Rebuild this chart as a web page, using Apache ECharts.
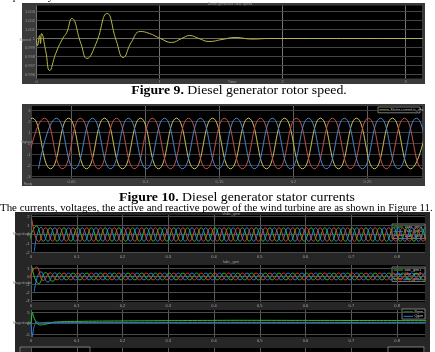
<!DOCTYPE html>
<html>
<head>
<meta charset="utf-8">
<script src="https://cdn.jsdelivr.net/npm/echarts@6/dist/echarts.min.js"></script>
<style>
  html, body { margin: 0; padding: 0; background: #fff; }
  #chart { width: 435px; height: 352px; }
</style>
</head>
<body>
<div id="chart"></div>
<script>
// Figure 9: diesel generator rotor speed (pu)
const speedTime = [0, 0.008, 0.025, 0.033, 0.041, 0.074, 0.107, 0.156, 0.213, 0.246, 0.287, 0.361, 0.41, 0.484, 0.574, 0.648, 0.705, 0.77, 0.844, 0.918, 1.008, 1.098, 1.18, 1.246, 1.32, 1.402, 1.508, 1.615, 1.754, 1.893, 2.2, 2.6, 3.0, 3.2];
const speedVal = [0.99989, 0.99922, 1.00033, 0.99944, 1.00056, 0.99867, 0.99644, 0.99833, 1.0, 1.00067, 1.00222, 0.99944, 0.99778, 0.99944, 1.00278, 0.99978, 0.99789, 0.99956, 1.00078, 1.00056, 1.0, 0.99956, 1.0, 1.00033, 1.0, 0.99967, 0.99989, 1.00011, 0.99994, 1.0, 1.0, 1.0, 1.0, 1.0];
const speedTicksX = [0, 1, 2, 3];
const speedTicksY = [1.003, 1.002, 1.001, 1.0, 0.999, 0.998, 0.997, 0.996];

// Figure 10: stator currents, peaks and troughs of each phase
const statorStart = 0.0115;          // first extremum (s)
const statorHalf = 0.01216;          // spacing between extrema (s)
const statorYellow = [-2.3, 2.3, -2.3, 2.3, -2.3, 2.3, -2.3, 2.3, -2.3, 2.3, -2.3, 2.3, -2.3, 2.3, -2.3, 2.3, -2.3, 2.3, -2.3, 2.3, -2.3, 2.3, -2.3, 2.3];
const statorRed = [-2.3, 2.3, -2.3, 2.3, -2.3, 2.3, -2.3, 2.3, -2.3, 2.3, -2.3, 2.3, -2.3, 2.3, -2.3, 2.3, -2.3, 2.3, -2.3, 2.3, -2.3, 2.3, -2.3, 2.3];
const statorBlue = [-2.3, 2.3, -2.3, 2.3, -2.3, 2.3, -2.3, 2.3, -2.3, 2.3, -2.3, 2.3, -2.3, 2.3, -2.3, 2.3, -2.3, 2.3, -2.3, 2.3, -2.3, 2.3, -2.3, 2.3];
const statorTicksX = [0.05, 0.1, 0.15, 0.2, 0.25];
const statorTicksY = [3, 2, 1, 0, -1, -2, -3];

// Figure 11 scope: shared time ticks
const scopeTicksX = [0, 0.1, 0.2, 0.3, 0.4, 0.5, 0.6, 0.7, 0.8];
const scopeHalf = 0.015;             // spacing between extrema (s)
const redStart = 0.002;
const blueStart = 0.007;
const greenStart = -0.003;

// Vabc_gen extrema (pu)
const vabcRed = [1.65, -0.8, 0.75, -0.75,
  0.75, -0.75, 0.75, -0.75, 0.75, -0.75, 0.75, -0.75, 0.75, -0.75, 0.75, -0.75, 0.75, -0.75,
  0.75, -0.75, 0.75, -0.75, 0.75, -0.75, 0.75, -0.75, 0.75, -0.75, 0.75, -0.75, 0.75, -0.75,
  0.75, -0.75, 0.75, -0.75, 0.75, -0.75, 0.75, -0.75, 0.75, -0.75, 0.75, -0.75, 0.75, -0.75,
  0.75, -0.75, 0.75, -0.75, 0.75, -0.75, 0.75, -0.75, 0.75, -0.75, 0.75, -0.75, 0.75, -0.75];
const vabcBlue = [-1.9, 0.8, -0.75, 0.75,
  -0.75, 0.75, -0.75, 0.75, -0.75, 0.75, -0.75, 0.75, -0.75, 0.75, -0.75, 0.75, -0.75, 0.75,
  -0.75, 0.75, -0.75, 0.75, -0.75, 0.75, -0.75, 0.75, -0.75, 0.75, -0.75, 0.75, -0.75, 0.75,
  -0.75, 0.75, -0.75, 0.75, -0.75, 0.75, -0.75, 0.75, -0.75, 0.75, -0.75, 0.75, -0.75, 0.75,
  -0.75, 0.75, -0.75, 0.75, -0.75, 0.75, -0.75, 0.75, -0.75, 0.75, -0.75, 0.75, -0.75, 0.75];
const vabcGreen = [-0.6, 0.95, -0.75, 0.75,
  -0.75, 0.75, -0.75, 0.75, -0.75, 0.75, -0.75, 0.75, -0.75, 0.75, -0.75, 0.75, -0.75, 0.75,
  -0.75, 0.75, -0.75, 0.75, -0.75, 0.75, -0.75, 0.75, -0.75, 0.75, -0.75, 0.75, -0.75, 0.75,
  -0.75, 0.75, -0.75, 0.75, -0.75, 0.75, -0.75, 0.75, -0.75, 0.75, -0.75, 0.75, -0.75, 0.75,
  -0.75, 0.75, -0.75, 0.75, -0.75, 0.75, -0.75, 0.75, -0.75, 0.75, -0.75, 0.75, -0.75, 0.75];
const vabcTicksY = [2, 1, 0, -1, -2];

// Iabc_gen extrema (pu)
const iabcRed = [1.25, -0.9, 0.5, -0.6,
  0.42, -0.42, 0.42, -0.42, 0.42, -0.42, 0.42, -0.42, 0.42, -0.42, 0.42, -0.42, 0.42, -0.42,
  0.42, -0.42, 0.42, -0.42, 0.42, -0.42, 0.42, -0.42, 0.42, -0.42, 0.42, -0.42, 0.42, -0.42,
  0.42, -0.42, 0.42, -0.42, 0.42, -0.42, 0.42, -0.42, 0.42, -0.42, 0.42, -0.42, 0.42, -0.42,
  0.42, -0.42, 0.42, -0.42, 0.42, -0.42, 0.42, -0.42, 0.42, -0.42, 0.42, -0.42, 0.42, -0.42];
const iabcBlue = [-1.9, 0.6, -0.7, 0.45,
  -0.42, 0.42, -0.42, 0.42, -0.42, 0.42, -0.42, 0.42, -0.42, 0.42, -0.42, 0.42, -0.42, 0.42,
  -0.42, 0.42, -0.42, 0.42, -0.42, 0.42, -0.42, 0.42, -0.42, 0.42, -0.42, 0.42, -0.42, 0.42,
  -0.42, 0.42, -0.42, 0.42, -0.42, 0.42, -0.42, 0.42, -0.42, 0.42, -0.42, 0.42, -0.42, 0.42,
  -0.42, 0.42, -0.42, 0.42, -0.42, 0.42, -0.42, 0.42, -0.42, 0.42, -0.42, 0.42, -0.42, 0.42];
const iabcGreen = [-0.3, 1.2, -0.5, 0.45,
  -0.42, 0.42, -0.42, 0.42, -0.42, 0.42, -0.42, 0.42, -0.42, 0.42, -0.42, 0.42, -0.42, 0.42,
  -0.42, 0.42, -0.42, 0.42, -0.42, 0.42, -0.42, 0.42, -0.42, 0.42, -0.42, 0.42, -0.42, 0.42,
  -0.42, 0.42, -0.42, 0.42, -0.42, 0.42, -0.42, 0.42, -0.42, 0.42, -0.42, 0.42, -0.42, 0.42,
  -0.42, 0.42, -0.42, 0.42, -0.42, 0.42, -0.42, 0.42, -0.42, 0.42, -0.42, 0.42, -0.42, 0.42];
const iabcTicksY = [1, 0, -1, -2, -3];

// Pgen / Qgen (pu)
const pqTime = [0, 0.003, 0.006, 0.012, 0.02, 0.03, 0.05, 0.08, 0.15, 0.3, 0.45, 0.6, 0.75, 0.87];
const pGen = [0, 5, 3, 0.2, -0.7, -0.4, 0.6, 0.9, 1.1, 1.3, 1.45, 1.4, 1.35, 1.3];
const qGen = [0, -6, -2, 0.8, 0.3, 0.5, 0.5, 0.5, 0.5, 0.5, 0.5, 0.5, 0.5, 0.5];
const pqTicksY = [5, 0, -5];

const SERIF = '"Liberation Serif", "DejaVu Serif", serif';
const SANS = '"Liberation Sans", "DejaVu Sans", sans-serif';

function wave(t0, step, vals) {
  return vals.map((v, i) => [t0 + i * step, v]);
}

// gridlines and their tick labels, as mark lines on the axes' own scales
function gridMarks(xs, ys, o) {
  const data = [];
  xs.forEach((v) => {
    data.push({
      xAxis: v,
      lineStyle: { color: o.vColor, width: 1, type: 'solid' },
      label: { show: o.xLabels !== false, position: 'start', distance: 1.5, formatter: String(v), color: o.text, fontSize: 4, fontFamily: SANS },
    });
  });
  ys.forEach((v) => {
    data.push({
      yAxis: v,
      lineStyle: { color: (o.mid !== undefined && v === o.mid) ? o.midColor : o.hColor, width: 1, type: 'solid' },
      label: { show: true, position: 'start', distance: 1.5, formatter: String(v), color: o.text, fontSize: 4, fontFamily: SANS },
    });
  });
  // precision: markLine rounds values to 2 decimals by default
  return { silent: true, symbol: 'none', precision: 6, z: 1, animation: false, data };
}

const chart = echarts.init(document.getElementById('chart'), null, { renderer: 'canvas' });

// plot areas of the scope windows (gridlines land on half pixels)
const grids = [
  { left: 36.5, top: 5.5, width: 385.5, height: 73 },
  { left: 32, top: 106, width: 390, height: 72 },
  { left: 31, top: 215, width: 394, height: 38 },
  { left: 31, top: 265, width: 394, height: 37 },
  { left: 31, top: 310, width: 394, height: 27 },
  { left: 31, top: 348, width: 394, height: 20 },
].map((g) => Object.assign({ show: true, backgroundColor: '#000', borderWidth: 0 }, g));

const xRanges = [[0, 3.134], [0.02331, 0.28682], [0, 0.861], [0, 0.861], [0, 0.861], [0, 0.861]];
const yRanges = [[0.995556, 1.003667], [-3.136, 3.409], [-2.0556, 2.1667], [-3.1875, 1.4375], [-6.136, 6.136], [-1, 1]];

const xAxis = xRanges.map((r, i) => ({ type: 'value', gridIndex: i, min: r[0], max: r[1], show: false }));
const yAxis = yRanges.map((r, i) => ({ type: 'value', gridIndex: i, min: r[0], max: r[1], show: false }));

const line = (i, name, data, color, extra) => Object.assign({
  name, type: 'line', xAxisIndex: i, yAxisIndex: i, data, showSymbol: false, symbol: 'none',
  smooth: 0.5, lineStyle: { color, width: 1 }, z: 3, animation: false,
}, extra || {});

const scopeGrid = { vColor: '#5a5a5a', hColor: '#4a4a4a', text: '#a8a8a8' };

const series = [
  line(0, 'Speed', speedTime.map((t, i) => [t, speedVal[i]]), '#b8b848', {
    markLine: gridMarks(speedTicksX, speedTicksY, { vColor: '#747474', hColor: '#444', mid: 1.0, midColor: '#6e6e64', text: '#999' }),
  }),
  line(1, 'is_a', wave(statorStart, statorHalf, statorYellow), '#c9c35e', {
    markLine: gridMarks(statorTicksX, statorTicksY, { vColor: '#606060', hColor: '#3c3c3c', text: '#999' }),
  }),
  line(1, 'is_b', wave(statorStart + statorHalf * 2 / 3, statorHalf, statorRed), '#c4524c'),
  line(1, 'is_c', wave(statorStart + statorHalf * 4 / 3, statorHalf, statorBlue), '#4f86c6'),

  line(2, 'Vabc_gen1', wave(greenStart, scopeHalf, vabcGreen), '#2fb82f', { markLine: gridMarks(scopeTicksX, vabcTicksY, scopeGrid) }),
  line(2, 'Vabc_gen2', wave(blueStart, scopeHalf, vabcBlue), '#2f7fd8'),
  line(2, 'Vabc_gen3', wave(redStart, scopeHalf, vabcRed), '#d8452f'),

  line(3, 'Iabc_gen1', wave(redStart, scopeHalf, iabcRed), '#2fb82f', { markLine: gridMarks(scopeTicksX, iabcTicksY, scopeGrid) }),
  line(3, 'Iabc_gen2', wave(blueStart, scopeHalf, iabcBlue), '#2f7fd8'),
  line(3, 'Iabc_gen3', wave(greenStart, scopeHalf, iabcGreen), '#d8452f'),

  line(4, 'Pgen', pqTime.map((t, i) => [t, pGen[i]]), '#2fc02f', { smooth: 0.2, markLine: gridMarks(scopeTicksX, pqTicksY, scopeGrid) }),
  line(4, 'Qgen', pqTime.map((t, i) => [t, qGen[i]]), '#2f7fd8', { smooth: 0.2 }),

  line(5, 'next', [], '#000', { markLine: gridMarks(scopeTicksX, [], Object.assign({ xLabels: false }, scopeGrid)) }),
];

const tiny = (text, x, y, extra) => ({
  type: 'text', x, y, z: 50, silent: true,
  style: Object.assign({ text, fill: '#9a9a9a', fontSize: 4, fontFamily: SANS, align: 'center', verticalAlign: 'middle' }, extra || {}),
});

function legendBox(x, y, w, names, colors) {
  const children = [{ type: 'rect', shape: { x: 0, y: 0, width: w, height: names.length * 4.3 + 1.5 }, style: { fill: '#000', stroke: '#9a9a9a', lineWidth: 0.8 } }];
  names.forEach((n, i) => {
    const cy = 3 + i * 4.3;
    children.push({ type: 'line', shape: { x1: 1.5, y1: cy, x2: 11, y2: cy }, style: { stroke: colors[i], lineWidth: 1 } });
    children.push({ type: 'text', x: 12.5, y: cy, style: { text: n, fill: '#cfcfcf', fontSize: 3.6, fontFamily: SANS, verticalAlign: 'middle' } });
  });
  return { type: 'group', x, y, z: 60, silent: true, children };
}

const caption = (bold, rest, x, y) => ({
  type: 'text', x, y, z: 50, scaleX: 1.15,
  style: { text: '{b|' + bold + '} ' + rest, fill: '#000', fontSize: 12, fontFamily: SERIF, align: 'center', verticalAlign: 'middle', rich: { b: { fontWeight: 'bold', fontSize: 12, fontFamily: SERIF } } },
});

const graphic = [
  // paper text
  { type: 'text', x: 0, y: -8, z: 50, style: { text: 'respectively.', fill: '#000', fontSize: 11, fontFamily: SERIF, verticalAlign: 'top' } },
  caption('Figure 9.', 'Diesel generator rotor speed.', 239, 91),
  caption('Figure 10.', 'Diesel generator stator currents', 237, 198),
  { type: 'text', x: 0, y: 208, z: 50, style: { text: 'The currents, voltages, the active and reactive power of the wind turbine are as shown in Figure 11.', fill: '#000', fontSize: 10.9, fontFamily: SERIF, verticalAlign: 'middle' } },
  // scope frames
  { type: 'rect', z: -10, shape: { x: 22, y: 3, width: 403, height: 81 }, style: { fill: '#3a3a3a' } },
  { type: 'rect', z: -10, shape: { x: 22, y: 104, width: 403, height: 82 }, style: { fill: '#3a3a3a' } },
  { type: 'rect', z: -10, shape: { x: 15, y: 212, width: 415, height: 140 }, style: { fill: '#262626' } },
  // fig 9 labels
  tiny('Diesel generator rotor speed', 230, 4, { fontSize: 3.5 }),
  tiny('Time', 232, 82),
  tiny('Speed', 25, 40, { rotation: Math.PI / 2 }),
  // fig 10 labels
  tiny('Signal', 26, 142, { rotation: Math.PI / 2 }),
  tiny('Ready', 28, 184, { fontSize: 3 }),
  legendBox(378, 107, 42, ['Stator current is_abc'], ['#c9c35e']),
  // fig 11 titles, axis names, legends
  tiny('Vabc_gen', 231, 213.5),
  tiny('Iabc_gen', 231, 262),
  tiny('Magnitude', 22, 234, { rotation: Math.PI / 2 }),
  tiny('Magnitude', 22, 283, { rotation: Math.PI / 2 }),
  tiny('Magnitude', 22, 323, { rotation: Math.PI / 2 }),
  legendBox(392, 224, 33, ['Vabc_gen1', 'Vabc_gen2', 'Vabc_gen3'], ['#2fb82f', '#2f7fd8', '#d8452f']),
  legendBox(392, 267, 33, ['Iabc_gen1', 'Iabc_gen2', 'Iabc_gen3'], ['#2fb82f', '#2f7fd8', '#d8452f']),
  legendBox(402, 309, 23, ['Pgen', 'Qgen'], ['#2fc02f', '#2f7fd8']),
  { type: 'rect', z: 60, shape: { x: 20, y: 347, width: 70, height: 6 }, style: { fill: 'none', stroke: '#8a8a8a', lineWidth: 0.8 } },
  { type: 'rect', z: 60, shape: { x: 388, y: 347, width: 36, height: 8 }, style: { fill: '#000', stroke: '#9a9a9a', lineWidth: 0.8 } },
];

chart.setOption({
  animation: false,
  backgroundColor: '#fff',
  grid: grids,
  xAxis,
  yAxis,
  series,
  graphic,
});
</script>
</body>
</html>
